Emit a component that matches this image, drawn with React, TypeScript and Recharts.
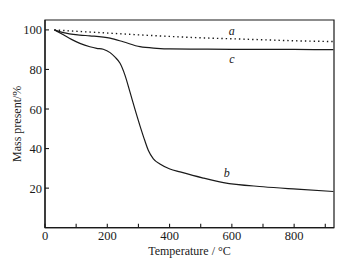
import React from 'react';
import { LineChart, Line, XAxis, YAxis, ReferenceArea, ReferenceDot } from 'recharts';

const tempA = [30, 100, 200, 300, 400, 500, 600, 700, 800, 926];
const massA = [100, 99.3, 98.4, 97.5, 96.7, 96.0, 95.5, 95.0, 94.5, 94.1];

const tempC = [30, 59, 112, 144, 209, 251, 305, 359, 401, 500, 600, 700, 800, 926];
const massC = [100, 98.6, 97.4, 97.0, 95.8, 94.0, 91.5, 90.7, 90.4, 90.3, 90.2, 90.2, 90.1, 90.0];

const tempB = [30, 59, 85, 112, 144, 166, 187, 209, 225, 241, 257, 273, 289, 305, 321, 332, 348, 369, 401, 434, 508, 573, 701, 809, 926];
const massB = [100, 97.5, 95.2, 93.2, 91.5, 90.7, 90.2, 88.5, 86.2, 83.1, 77.0, 68.5, 59.8, 51.5, 43.8, 39.0, 34.8, 32.2, 29.7, 28.2, 25.1, 22.8, 20.7, 19.5, 18.3];

const xTicks = [0, 100, 200, 300, 400, 500, 600, 700, 800, 900];
const xLabels = [0, 200, 400, 600, 800];
const yTicks = [10, 20, 30, 40, 50, 60, 70, 80, 90, 100];
const yLabels = [20, 40, 60, 80, 100];

const curveLabels = [
  { name: 'a', t: 600, m: 99.6 },
  { name: 'c', t: 600, m: 85.6 },
  { name: 'b', t: 584, m: 27.8 },
];

const toRows = (t: number[], m: number[]) => t.map((v, i) => ({ t: v, m: m[i] }));
const dataA = toRows(tempA, massA);
const dataB = toRows(tempB, massB);
const dataC = toRows(tempC, massC);

const FONT = '"Liberation Serif", "DejaVu Serif", serif';
const INK = '#1a1a1a';

const XTick = (props: any) => {
  const { x, y, payload } = props;
  const axisY = y - 2;
  const show = xLabels.includes(payload.value);
  return (
    <g>
      <line x1={x} x2={x} y1={axisY} y2={axisY - 4} stroke={INK} strokeWidth={1.1} />
      {show && (
        <text x={x} y={axisY + 12} textAnchor="middle" fontFamily={FONT} fontSize={12.5} fill={INK}>
          {payload.value}
        </text>
      )}
    </g>
  );
};

const YTick = (props: any) => {
  const { x, y, payload } = props;
  const axisX = x + 2;
  const show = yLabels.includes(payload.value);
  return (
    <g>
      <line x1={axisX} x2={axisX + 4} y1={y} y2={y} stroke={INK} strokeWidth={1.1} />
      {show && (
        <text x={axisX - 3} y={y + 4.5} textAnchor="end" fontFamily={FONT} fontSize={12.5} fill={INK}>
          {payload.value}
        </text>
      )}
    </g>
  );
};

const YLabel = (props: any) => {
  const vb = props.viewBox || {};
  const cx = (vb.x || 0) + 17;
  const cy = (vb.y || 0) + (vb.height || 0) / 2;
  return (
    <text
      x={cx}
      y={cy}
      transform={`rotate(-90, ${cx}, ${cy})`}
      textAnchor="middle"
      dominantBaseline="central"
      fontFamily={FONT}
      fontSize={12}
      fill={INK}
    >
      Mass present/%
    </text>
  );
};

export default function App() {
  return (
    <div style={{ position: 'absolute', left: 0, top: 0, background: '#fff' }}>
      <LineChart width={357} height={265} margin={{ top: 20, right: 23, left: 0, bottom: 0 }}>
        <XAxis
          dataKey="t"
          type="number"
          domain={[0, 928]}
          ticks={xTicks}
          tick={<XTick />}
          tickLine={false}
          tickSize={0}
          tickMargin={2}
          height={37.3}
          axisLine={{ stroke: INK, strokeWidth: 1.2 }}
          allowDataOverflow
          label={{ value: 'Temperature / °C', position: 'insideBottom', offset: 10, fontFamily: FONT, fontSize: 12, fill: INK }}
        />
        <YAxis
          dataKey="m"
          type="number"
          domain={[0, 105]}
          ticks={yTicks}
          tick={<YTick />}
          tickLine={false}
          tickSize={0}
          tickMargin={2}
          width={45}
          axisLine={{ stroke: INK, strokeWidth: 1.2 }}
          allowDataOverflow
          label={<YLabel />}
        />
        <ReferenceArea x1={0} x2={928} y1={0} y2={105} fill="none" stroke={INK} strokeWidth={1.2} ifOverflow="visible" />
        <Line data={dataA} dataKey="m" type="monotone" stroke={INK} strokeWidth={1.4} strokeDasharray="1.4 3" dot={false} isAnimationActive={false} />
        <Line data={dataC} dataKey="m" type="monotone" stroke={INK} strokeWidth={1.2} dot={false} isAnimationActive={false} />
        <Line data={dataB} dataKey="m" type="monotone" stroke={INK} strokeWidth={1.2} dot={false} isAnimationActive={false} />
        {curveLabels.map((l) => (
          <ReferenceDot
            key={l.name}
            x={l.t}
            y={l.m}
            r={0}
            fill="none"
            stroke="none"
            ifOverflow="visible"
            label={{ value: l.name, position: 'center', fontFamily: FONT, fontStyle: 'italic', fontSize: 12, fill: INK }}
          />
        ))}
      </LineChart>
    </div>
  );
}
